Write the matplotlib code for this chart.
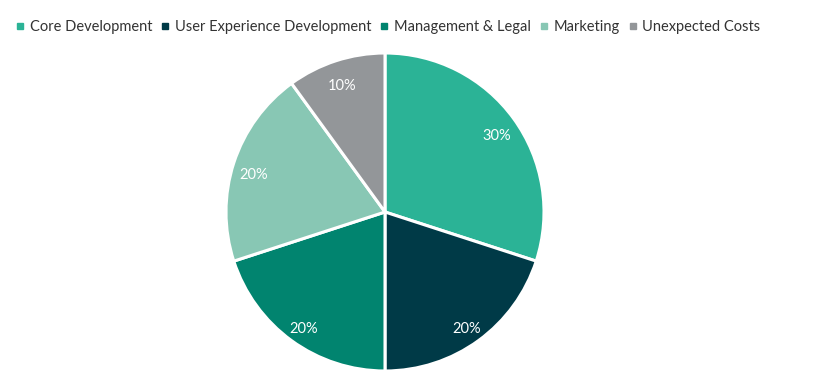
import matplotlib.pyplot as plt
from matplotlib.lines import Line2D

# data
categories = ["Core Development", "User Experience Development", "Management & Legal",
              "Marketing", "Unexpected Costs"]
shares = [30, 20, 20, 20, 10]
colors = ["#2bb396", "#003a47", "#01846f", "#88c7b4", "#939699"]

plt.rcParams['font.family'] = ['Lato', 'DejaVu Sans']

W, H = 814, 380
fig = plt.figure(figsize=(W / 100, H / 100), dpi=100)

# pie centre and radius in pixels
cx, cy, r = 385, 212, 159
ax = fig.add_axes([(cx - r) / W, (H - cy - r) / H, 2 * r / W, 2 * r / H])

wedges, texts, autotexts = ax.pie(
    shares, colors=colors, startangle=90, counterclock=False,
    autopct=lambda p: f"{p:.0f}%", pctdistance=0.87,
    wedgeprops=dict(edgecolor="white", linewidth=2.2),
    textprops=dict(color="white", fontsize=10.5))
# labels sit a touch lower in the original
for t in autotexts:
    x, y = t.get_position()
    t.set_position((x, y - 0.035))
ax.set_xlim(-1, 1)
ax.set_ylim(-1, 1)
ax.set_aspect("equal")

handles = [Line2D([], [], marker="s", linestyle="none", markersize=4,
                  markerfacecolor=c, markeredgecolor=c) for c in colors]
fig.legend(handles, categories, loc="center left", bbox_to_anchor=(7 / W, 1 - 27 / H),
           ncol=5, frameon=False, fontsize=10.5, handlelength=0.6,
           handletextpad=0.35, columnspacing=0.6, labelcolor="#333333",
           borderaxespad=0.2)

fig.savefig("out.png", dpi=100)
